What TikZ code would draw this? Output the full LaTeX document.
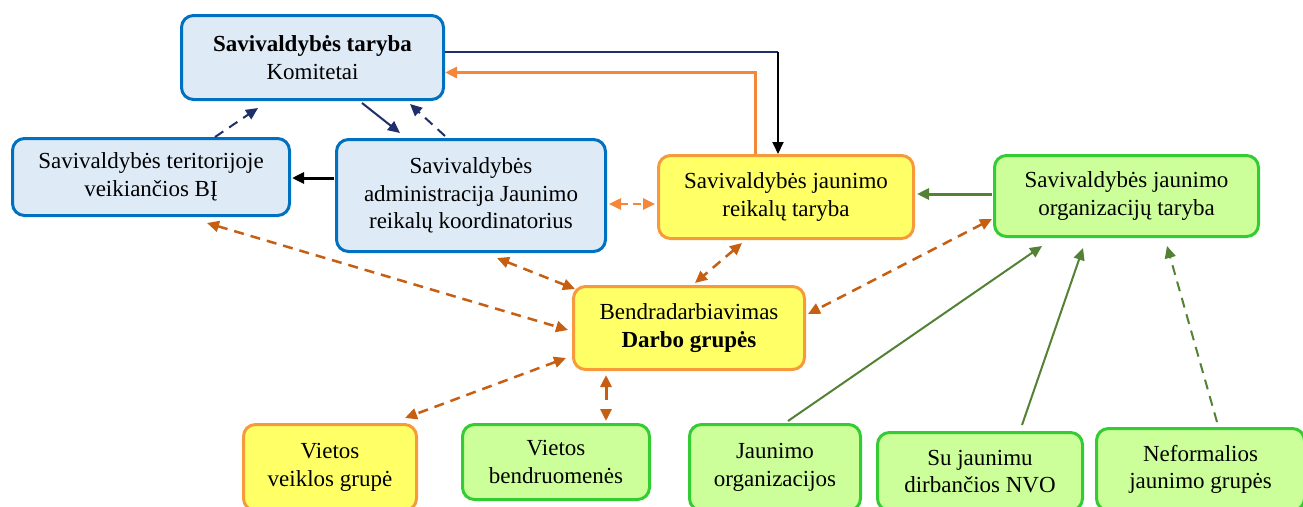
\documentclass[tikz,border=0pt]{standalone}
\usepackage{fontspec}
\setmainfont{Liberation Serif}
\usetikzlibrary{arrows.meta,calc}
\definecolor{bluefill}{HTML}{DEEBF7}
\definecolor{blueline}{HTML}{0070C0}
\definecolor{yelfill}{HTML}{FFFF66}
\definecolor{yelline}{HTML}{F79A3B}
\definecolor{grnfill}{HTML}{CCFF99}
\definecolor{grnline}{HTML}{33CC33}
\definecolor{navyc}{HTML}{1F2F6B}
\definecolor{dkorange}{HTML}{C65F12}
\definecolor{ltorange}{HTML}{F4873A}
\definecolor{arrgreen}{HTML}{548235}
\begin{document}
\begin{tikzpicture}[x=1pt,y=-1pt,
  box/.style={rounded corners=12pt, line width=3pt, align=center, inner sep=0pt,
    font=\fontsize{23}{27.5}\selectfont},
  bluebox/.style={box, draw=blueline, fill=bluefill},
  yelbox/.style={box, draw=yelline, fill=yelfill},
  grnbox/.style={box, draw=grnline, fill=grnfill},
  tip/.style={-{Triangle[length=12pt,width=11pt]}},
  dtip/.style={{Triangle[length=12pt,width=11pt]}-{Triangle[length=12pt,width=11pt]}},
  navyarr/.style={draw=navyc, line width=2pt, tip},
  navydash/.style={navyarr, dash pattern=on 10pt off 7pt},
  ordash/.style={draw=dkorange, line width=2.5pt, dtip, dash pattern=on 10pt off 7pt},
  ltordash/.style={draw=ltorange, line width=2.5pt, dtip, dash pattern=on 8pt off 5pt},
  grnarr/.style={draw=arrgreen, line width=2pt, tip},
]
\useasboundingbox (0,0) rectangle (1303,506);
\clip (0,0) rectangle (1303,506);
\fill[white] (0,0) rectangle (1303,506);

\node[bluebox, minimum width=262pt, minimum height=84pt] (A) at (312.5,57.5)
  {\textbf{Savivaldybės taryba}\\Komitetai};
\node[bluebox, minimum width=277pt, minimum height=77pt] (B) at (151,177)
  {Savivaldybės teritorijoje\\veikiančios BĮ};
\node[bluebox, minimum width=269pt, minimum height=112pt] (C) at (471,195.5)
  {Savivaldybės\\administracija Jaunimo\\reikalų koordinatorius};
\node[yelbox, minimum width=255pt, minimum height=83pt] (D) at (786,197)
  {Savivaldybės jaunimo\\reikalų taryba};
\node[grnbox, minimum width=264pt, minimum height=81pt] (E) at (1126.5,196)
  {Savivaldybės jaunimo\\organizacijų taryba};
\node[yelbox, minimum width=231pt, minimum height=83pt] (F) at (689,328)
  {Bendradarbiavimas\\\textbf{Darbo grupės}};
\node[yelbox, minimum width=173pt, minimum height=86pt] (G) at (330,467.5)
  {Vietos\\veiklos grupė};
\node[grnbox, minimum width=187pt, minimum height=75pt] (H) at (556,462)
  {Vietos\\bendruomenės};
\node[grnbox, minimum width=171pt, minimum height=86pt] (I) at (775,467.5)
  {Jaunimo\\organizacijos};
\node[grnbox, minimum width=205pt, minimum height=78pt] (J) at (980,471.5)
  {Su jaunimu\\dirbančios NVO};
\node[grnbox, minimum width=208pt, minimum height=82pt] (K) at (1200.5,469.5)
  {Neformalios\\jaunimo grupės};

% top connectors
\coordinate (corner) at ($(A.east)+(333,-5.5)$);
\draw[navyc, line width=2pt] ($(A.east)+(0,-5.5)$) -- (corner);
\draw[black, line width=2pt, tip] (corner) -- ($(D.north)+(-8,0)$);
\draw[ltorange, line width=3pt, tip] ($(D.north)+(-31,0)$) |- ($(A.east)+(0,15)$);

\draw[navyarr] ($(A.south)+(49.5,2)$) -- ($(C.north)+(-71,-5)$);
\draw[navydash] ($(C.north)+(-26,-2)$) -- ($(A.south)+(97.5,3)$);
\draw[navydash] ($(B.north)+(64,0)$) -- ($(A.south)+(-54.5,7)$);
\draw[black, line width=3pt, tip] ($(C.west)+(-1,-17.5)$) -- ($(B.east)+(1,1)$);

\draw[ltordash] ($(C.east)+(2,8.5)$) -- ($(D.west)+(-2,7)$);

% cooperation connectors
\draw[ordash] ($(B.south)+(56,6)$) -- ($(F.west)+(-4,2)$);
\draw[ordash] ($(C.south)+(26,5)$) -- ($(F.north west)+(3,4)$);
\draw[ordash] ($(D.south)+(-44,3)$) -- ($(F.north)+(6,-2)$);
\draw[ordash] ($(E.west)+(-1,23)$) -- ($(F.east)+(2,-14)$);
\draw[ordash] ($(F.west)+(-6,30)$) -- ($(G.north)+(75,-5)$);
\draw[draw=dkorange, line width=3pt, dtip, dash pattern=on 14pt off 10pt] ($(F.south)+(-83,4)$) -- ($(H.north)+(50,-2)$);

% green connectors
\draw[arrgreen, line width=3pt, tip] ($(E.west)+(-1,-2)$) -- ($(D.east)+(2,-3)$);
\draw[grnarr] ($(I.north)+(13,-2)$) -- ($(E.south)+(-84.5,8)$);
\draw[grnarr] ($(J.north)+(42,-6)$) -- ($(E.south)+(-43.5,10)$);
\draw[grnarr, dash pattern=on 10pt off 7pt] ($(K.north)+(16.5,-5)$) -- ($(E.south)+(40.5,8)$);
\end{tikzpicture}
\end{document}
